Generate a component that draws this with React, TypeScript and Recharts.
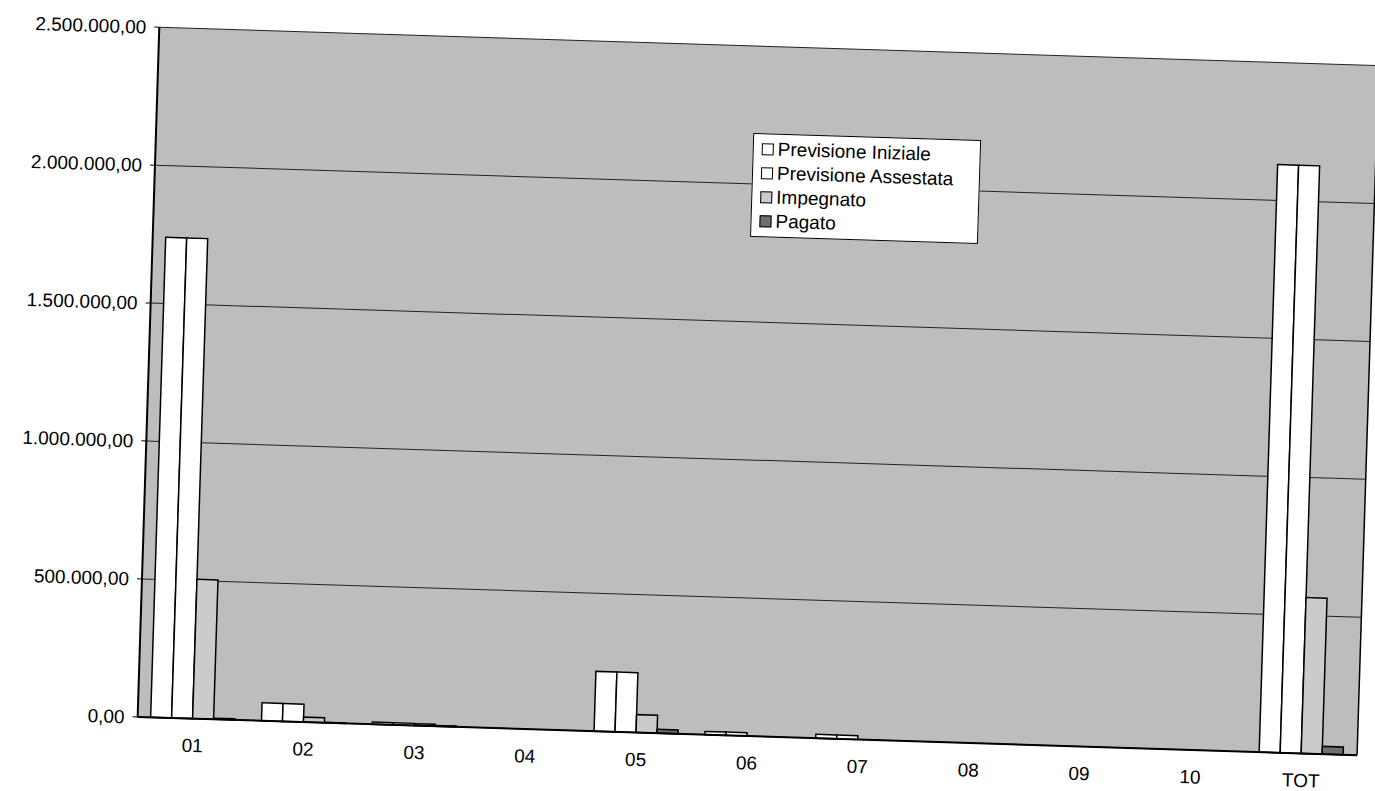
import React from 'react';
import { BarChart, Bar, XAxis, YAxis, CartesianGrid, Legend } from 'recharts';

const categorie = ['01', '02', '03', '04', '05', '06', '07', '08', '09', '10', 'TOT'];
const previsioneIniziale = [1740000, 65000, 8000, 0, 217000, 12000, 14000, 0, 0, 0, 2130000];
const previsioneAssestata = [1740000, 65000, 8000, 0, 217000, 12000, 14000, 0, 0, 0, 2130000];
const impegnato = [505000, 18000, 7000, 0, 65000, 0, 0, 0, 0, 0, 565000];
const pagato = [4000, 2000, 3000, 0, 14000, 0, 0, 0, 0, 0, 28000];
const yTicks = [0, 500000, 1000000, 1500000, 2000000, 2500000];

const serie = [
  { key: 'iniziale', nome: 'Previsione Iniziale', colore: '#ffffff' },
  { key: 'assestata', nome: 'Previsione Assestata', colore: '#ffffff' },
  { key: 'impegnato', nome: 'Impegnato', colore: '#cbcbcb' },
  { key: 'pagato', nome: 'Pagato', colore: '#6f6f6f' },
];

const rows = categorie.map((c, i) => ({
  cat: c,
  iniziale: previsioneIniziale[i],
  assestata: previsioneAssestata[i],
  impegnato: impegnato[i],
  pagato: pagato[i],
}));

// 2500000 -> "2.500.000,00"
const euro = (v: number) => {
  const s = Math.round(v).toString().replace(/\B(?=(\d{3})+(?!\d))/g, '.');
  return `${s},00`;
};

const FONT = '"Liberation Sans", Arial, sans-serif';

const Leggenda = () => (
  <div style={{ background: '#fff', border: '1px solid #000', padding: '3px 6px 3px 8px', fontFamily: FONT }}>
    {serie.map((s) => (
      <div key={s.key} style={{ display: 'flex', alignItems: 'center', height: 24, fontSize: 19, color: '#000' }}>
        <span style={{ display: 'inline-block', width: 10, height: 10, border: '1.5px solid #000', background: s.colore, marginRight: 4 }} />
        {s.nome}
      </div>
    ))}
  </div>
);

export default function App() {
  return (
    <div style={{ position: 'absolute', left: 0, top: 0, width: 1375, height: 791, background: '#fff', overflow: 'hidden' }}>
      {/* the scan is tilted a little, so the whole chart is too */}
      <div style={{ width: 1375, height: 791, transform: 'rotate(1.8deg)', transformOrigin: '50% 50%' }}>
        <BarChart width={1375} height={791} data={rows} margin={{ top: 44, right: 6, left: 0, bottom: 0 }}
          barSize={21} barGap={0} style={{ fontFamily: FONT }}>
          <CartesianGrid vertical={false} fill="#bdbdbd" stroke="#222" strokeWidth={1} fillOpacity={1} />
          <XAxis dataKey="cat" height={57} tickLine={false} axisLine={{ stroke: '#000', strokeWidth: 2 }}
            tick={{ fontSize: 19, fill: '#000' }} tickMargin={14} />
          <YAxis width={148} domain={[0, 2500000]} ticks={yTicks} tickFormatter={euro} interval={0}
            tick={{ fontSize: 19, fill: '#000' }} tickSize={5} tickMargin={8}
            tickLine={{ stroke: '#000' }} axisLine={{ stroke: '#000', strokeWidth: 2 }} />
          <YAxis yAxisId="bordo" orientation="right" width={1} tick={false} tickLine={false}
            axisLine={{ stroke: '#000', strokeWidth: 1.5 }} />
          <Legend layout="vertical" align="center" verticalAlign="middle" content={() => <Leggenda />}
            wrapperStyle={{ left: 745, top: 131, width: 228 }} />
          {serie.map((s) => (
            <Bar key={s.key} dataKey={s.key} name={s.nome} fill={s.colore} stroke="#000" strokeWidth={1.5}
              isAnimationActive={false} />
          ))}
        </BarChart>
      </div>
    </div>
  );
}
